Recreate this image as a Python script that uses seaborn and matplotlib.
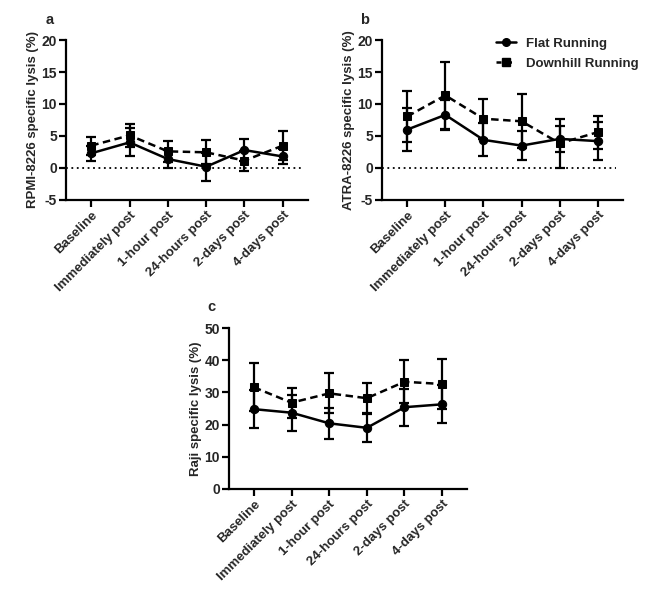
import numpy as np
import pandas as pd
import matplotlib
matplotlib.use("Agg")
import matplotlib.pyplot as plt
from matplotlib.lines import Line2D
import seaborn as sns

sns.set_theme(style="ticks")
plt.rcParams['font.family'] = ['Liberation Sans', 'DejaVu Sans']
plt.rcParams['font.weight'] = 'bold'

timepoints = ["Baseline", "Immediately post", "1-hour post", "24-hours post", "2-days post", "4-days post"]
groups = ["Flat Running", "Downhill Running"]

rpmi_flat = [2.3, 4.0, 1.4, 0.2, 2.8, 1.8]
rpmi_flat_sd = [1.15, 2.2, 1.35, 2.2, 1.75, 1.2]
rpmi_down = [3.5, 5.1, 2.6, 2.45, 1.15, 3.5]
rpmi_down_sd = [1.4, 1.8, 1.6, 1.85, 1.55, 2.25]

atra_flat = [6.0, 8.3, 4.4, 3.5, 4.55, 4.2]
atra_flat_sd = [3.4, 2.3, 2.6, 2.25, 2.05, 3.0]
atra_down = [8.05, 11.35, 7.7, 7.3, 3.85, 5.6]
atra_down_sd = [4.05, 5.25, 3.1, 4.2, 3.8, 2.6]

raji_flat = [24.8, 23.7, 20.4, 19.0, 25.4, 26.3]
raji_flat_sd = [5.8, 5.6, 4.9, 4.3, 5.8, 5.9]
raji_down = [31.6, 26.8, 29.7, 28.2, 33.3, 32.6]
raji_down_sd = [7.4, 4.6, 6.2, 4.6, 6.7, 7.8]

panels = [
    ("a", "RPMI-8226 specific lysis (%)", rpmi_flat, rpmi_flat_sd, rpmi_down, rpmi_down_sd, (-5, 20), [-5, 0, 5, 10, 15, 20]),
    ("b", "ATRA-8226 specific lysis (%)", atra_flat, atra_flat_sd, atra_down, atra_down_sd, (-5, 20), [-5, 0, 5, 10, 15, 20]),
    ("c", "Raji specific lysis (%)", raji_flat, raji_flat_sd, raji_down, raji_down_sd, (0, 50), [0, 10, 20, 30, 40, 50]),
]

W, H = 661, 607
fig = plt.figure(figsize=(W / 100, H / 100), dpi=100)

def frac(left, top, right, bottom):
    return [left / W, 1 - bottom / H, (right - left) / W, (bottom - top) / H]

axes_rects = [frac(66, 40, 308, 200), frac(382, 40, 623, 200), frac(229, 328, 467, 489)]
label_pos = [(50, 20), (365, 20), (211, 307)]
DASH = (3, 1.8)

for i, (lab, ylabel, fl, fls, dn, dns, ylim, yticks) in enumerate(panels):
    ax = fig.add_axes(axes_rects[i])
    df = pd.DataFrame({
        "x": list(range(6)) * 2,
        "value": fl + dn,
        "sd": fls + dns,
        "group": [groups[0]] * 6 + [groups[1]] * 6,
    })
    if ylim[0] < 0:
        ax.axhline(0, color="black", linestyle=(0, (1, 2)), linewidth=1.3, xmin=0.0, xmax=0.97, zorder=1)
    for g in groups:
        sub = df[df.group == g]
        ax.errorbar(sub.x, sub.value, yerr=sub.sd, fmt="none", ecolor="black",
                    elinewidth=1.6, capsize=3.5, capthick=1.6, zorder=2)
    sns.lineplot(data=df, x="x", y="value", style="group", markers={groups[0]: "o", groups[1]: "s"},
                 dashes={groups[0]: "", groups[1]: DASH}, color="black", linewidth=1.8,
                 markersize=6, markeredgecolor="black", ax=ax, legend=False, zorder=3)
    ax.set_xlim(-0.66, 5.66)
    ax.set_ylim(*ylim)
    ax.set_yticks(yticks)
    ax.set_xticks(range(6))
    ax.set_xticklabels(timepoints, rotation=45, ha="right", rotation_mode="anchor", fontsize=9.5, fontweight="bold")
    ax.set_yticklabels([str(t) for t in yticks], fontsize=10, fontweight="bold")
    ax.set_xlabel("")
    ax.set_ylabel(ylabel, fontsize=9.5, fontweight="bold", labelpad=2)
    for s in ["top", "right"]:
        ax.spines[s].set_visible(False)
    for s in ["left", "bottom"]:
        ax.spines[s].set_linewidth(1.6)
        ax.spines[s].set_color("black")
    ax.tick_params(axis="both", length=5, width=1.6, color="black", pad=1.5)
    ax.set_facecolor("white")
    fig.text(label_pos[i][0] / W, 1 - label_pos[i][1] / H, lab, fontsize=10.5, fontweight="bold",
             ha="center", va="center")
    if i == 1:
        handles = [
            Line2D([], [], color="black", linestyle="-", linewidth=1.8, marker="o", markersize=5.5),
            Line2D([], [], color="black", linestyle=(0, (2, 2.2)), linewidth=1.8, marker="s", markersize=5.5),
        ]
        leg = ax.legend(handles, groups, loc="upper right", bbox_to_anchor=(1.115, 1.09), frameon=False,
                        fontsize=9.5, handlelength=1.5, handletextpad=0.8, labelspacing=0.6)
        for t in leg.get_texts():
            t.set_fontweight("bold")

fig.savefig("out.png", dpi=100, facecolor="white")
